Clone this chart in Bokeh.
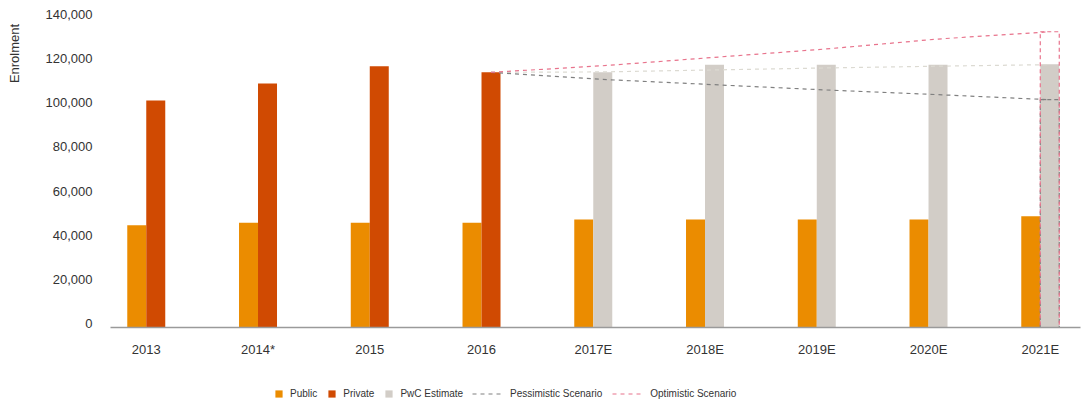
import math
from bokeh.plotting import figure
from bokeh.layouts import row, column
from bokeh.models import (ColumnDataSource, FixedTicker, NumeralTickFormatter,
                          Legend, LegendItem, Label, Range1d, LinearAxis)
from bokeh.transform import dodge
from bokeh.embed import file_html
from bokeh.resources import INLINE

years = ["2013", "2014*", "2015", "2016", "2017E", "2018E", "2019E", "2020E", "2021E"]
public = [46300, 47500, 47500, 47500, 48900, 48900, 48900, 48900, 50400]
private_years = ["2013", "2014*", "2015", "2016"]
private = [102900, 110600, 118400, 115600]
pwc_years = ["2017E", "2018E", "2019E", "2020E", "2021E"]
pwc_estimate = [115600, 119000, 119000, 119000, 119300]
scenario_years = ["2016", "2017E", "2018E", "2019E", "2020E", "2021E"]
pessimistic = [115600, 112400, 110000, 107600, 105500, 103200]
optimistic = [115600, 118600, 122400, 126200, 130700, 134000]
trend = [115600, 115800, 116700, 117600, 118400, 119100]
y_ticks = [0, 20000, 40000, 60000, 80000, 100000, 120000, 140000]

idx = {y: i for i, y in enumerate(years)}
FONT = "Liberation Sans"
TXT = "#333333"
C_PUBLIC = "#EB8C00"
C_PRIVATE = "#D04A02"
C_PWC = "#D2CDC7"
C_PESS = "#808080"
C_OPT = "#E8738C"
C_TREND = "#DCDAD2"
BW = 0.17

# layout geometry (pixels)
MAIN_H = 360
FRAME_TOP = 10
FRAME_H = 317
VAL_H = 309            # pixels spanned by 0..140000
LABEL_SHIFT = 4        # tick labels sit a few px above their value
y_top = 140000 * FRAME_H / VAL_H
shift = LABEL_SHIFT * 140000 / VAL_H

s_pub = ColumnDataSource(dict(x=[idx[y] for y in years], v=public))
s_priv = ColumnDataSource(dict(x=[idx[y] for y in private_years], v=private))
s_pwc = ColumnDataSource(dict(x=[idx[y] for y in pwc_years], v=pwc_estimate))
s_scen = ColumnDataSource(dict(x=[idx[y] for y in scenario_years],
                               pess=pessimistic, opt=optimistic, trend=trend))
s_end = ColumnDataSource(dict(x=[idx[scenario_years[-1]]],
                              pess=[pessimistic[-1]], opt=[optimistic[-1]]))

BAR_STYLES = {"pub": dict(fill_color=C_PUBLIC, line_color=None),
              "priv": dict(fill_color=C_PRIVATE, line_color=None),
              "pwc": dict(fill_color=C_PWC, line_color=None)}
LINE_STYLES = {"pess": dict(line_color=C_PESS, line_width=1.2, line_dash="4 4"),
               "opt": dict(line_color=C_OPT, line_width=1.2, line_dash="4 4")}

# ---------------- main chart ----------------
p = figure(width=1051, height=MAIN_H, output_backend="svg", toolbar_location=None,
           x_range=Range1d(-0.32, 8.36), y_range=Range1d(0, y_top),
           y_axis_location=None,
           min_border_left=80, min_border_right=1, min_border_top=FRAME_TOP,
           min_border_bottom=MAIN_H - FRAME_TOP - FRAME_H)
p.outline_line_color = None
p.xgrid.visible = False
p.ygrid.visible = False
p.extra_y_ranges = {"lab": Range1d(-shift, y_top - shift)}

p.vbar(x=dodge("x", -BW / 2), top="v", width=BW, source=s_pub, **BAR_STYLES["pub"])
p.vbar(x=dodge("x", BW / 2), top="v", width=BW, source=s_priv, **BAR_STYLES["priv"])
p.vbar(x=dodge("x", BW / 2), top="v", width=BW, source=s_pwc, **BAR_STYLES["pwc"])
p.line(x=dodge("x", BW / 2), y="trend", source=s_scen, line_color=C_TREND,
       line_width=1.2, line_dash="4 4")
p.line(x=dodge("x", BW / 2), y="pess", source=s_scen, **LINE_STYLES["pess"])
p.line(x=dodge("x", BW / 2), y="opt", source=s_scen, **LINE_STYLES["opt"])
p.vbar(x=dodge("x", BW / 2), top="pess", width=BW, source=s_end,
       fill_color=None, line_color=C_PESS, line_width=1.2, line_dash="4 3")
p.vbar(x=dodge("x", BW / 2), top="opt", width=BW, source=s_end,
       fill_color=None, line_color=C_OPT, line_width=1.2, line_dash="4 3")

xa = p.xaxis[0]
xa.ticker = FixedTicker(ticks=list(range(len(years))))
xa.major_label_overrides = {i: y for i, y in enumerate(years)}
xa.axis_line_color = "#9a9a9a"
xa.axis_line_width = 1.5
xa.major_tick_line_color = None
xa.minor_tick_line_color = None
xa.major_tick_out = 0
xa.major_label_standoff = 14
xa.major_label_text_font = FONT
xa.major_label_text_font_size = "13px"
xa.major_label_text_color = TXT

ya = LinearAxis(y_range_name="lab", ticker=FixedTicker(ticks=y_ticks),
                formatter=NumeralTickFormatter(format="0,0"))
ya.axis_line_color = None
ya.major_tick_line_color = None
ya.minor_tick_line_color = None
ya.major_tick_out = 0
ya.major_label_standoff = 18
ya.major_label_text_font = FONT
ya.major_label_text_font_size = "13px"
ya.major_label_text_color = TXT
p.add_layout(ya, "left")

# ---------------- y axis title ----------------
lab_fig = figure(width=30, height=MAIN_H, output_backend="svg", toolbar_location=None,
                 x_axis_location=None, y_axis_location=None, min_border=0,
                 x_range=Range1d(0, 1), y_range=Range1d(0, 1))
lab_fig.outline_line_color = None
lab_fig.xgrid.visible = False
lab_fig.ygrid.visible = False
lab_fig.add_layout(Label(x=14, y=MAIN_H - 86, x_units="screen", y_units="screen",
                         text="Enrolment", angle=math.pi / 2, text_align="center",
                         text_baseline="middle", text_font=FONT,
                         text_font_size="13px", text_color=TXT))

# ---------------- legend strip ----------------
# swatch-only renderers (no drawable values) carrying the series' styles
LEG_H = 45
leg_fig = figure(width=1081, height=LEG_H, output_backend="svg", toolbar_location=None,
                 x_axis_location=None, y_axis_location=None, min_border=0,
                 x_range=Range1d(0, 1), y_range=Range1d(0, 1))
leg_fig.outline_line_color = None
leg_fig.xgrid.visible = False
leg_fig.ygrid.visible = False
nan = float("nan")
proxy = ColumnDataSource(dict(x=[nan, nan], v=[nan, nan]))
lr = {k: leg_fig.vbar(x="x", top="v", width=BW, source=proxy, **st)
      for k, st in BAR_STYLES.items()}
lr.update({k: leg_fig.line(x="x", y="v", source=proxy, **st)
           for k, st in LINE_STYLES.items()})


def mk_legend(items, gw, gh, loc):
    return Legend(items=items, orientation="horizontal", location=loc,
                  glyph_width=gw, glyph_height=gh, label_standoff=7, spacing=10,
                  padding=0, margin=0, border_line_color=None,
                  background_fill_alpha=0, label_text_font=FONT,
                  label_text_font_size="10px", label_text_color=TXT,
                  label_height=9)


leg_fig.add_layout(mk_legend([LegendItem(label="Public", renderers=[lr["pub"]]),
                              LegendItem(label="Private", renderers=[lr["priv"]]),
                              LegendItem(label="PwC Estimate", renderers=[lr["pwc"]])],
                             9, 9, (274, 6)))
leg_fig.add_layout(mk_legend([LegendItem(label="Pessimistic Scenario", renderers=[lr["pess"]]),
                              LegendItem(label="Optimistic Scenario", renderers=[lr["opt"]])],
                             31, 9, (472, 6)))

layout = column(row(lab_fig, p), leg_fig)
open("out.html", "w").write(file_html(layout, INLINE))
